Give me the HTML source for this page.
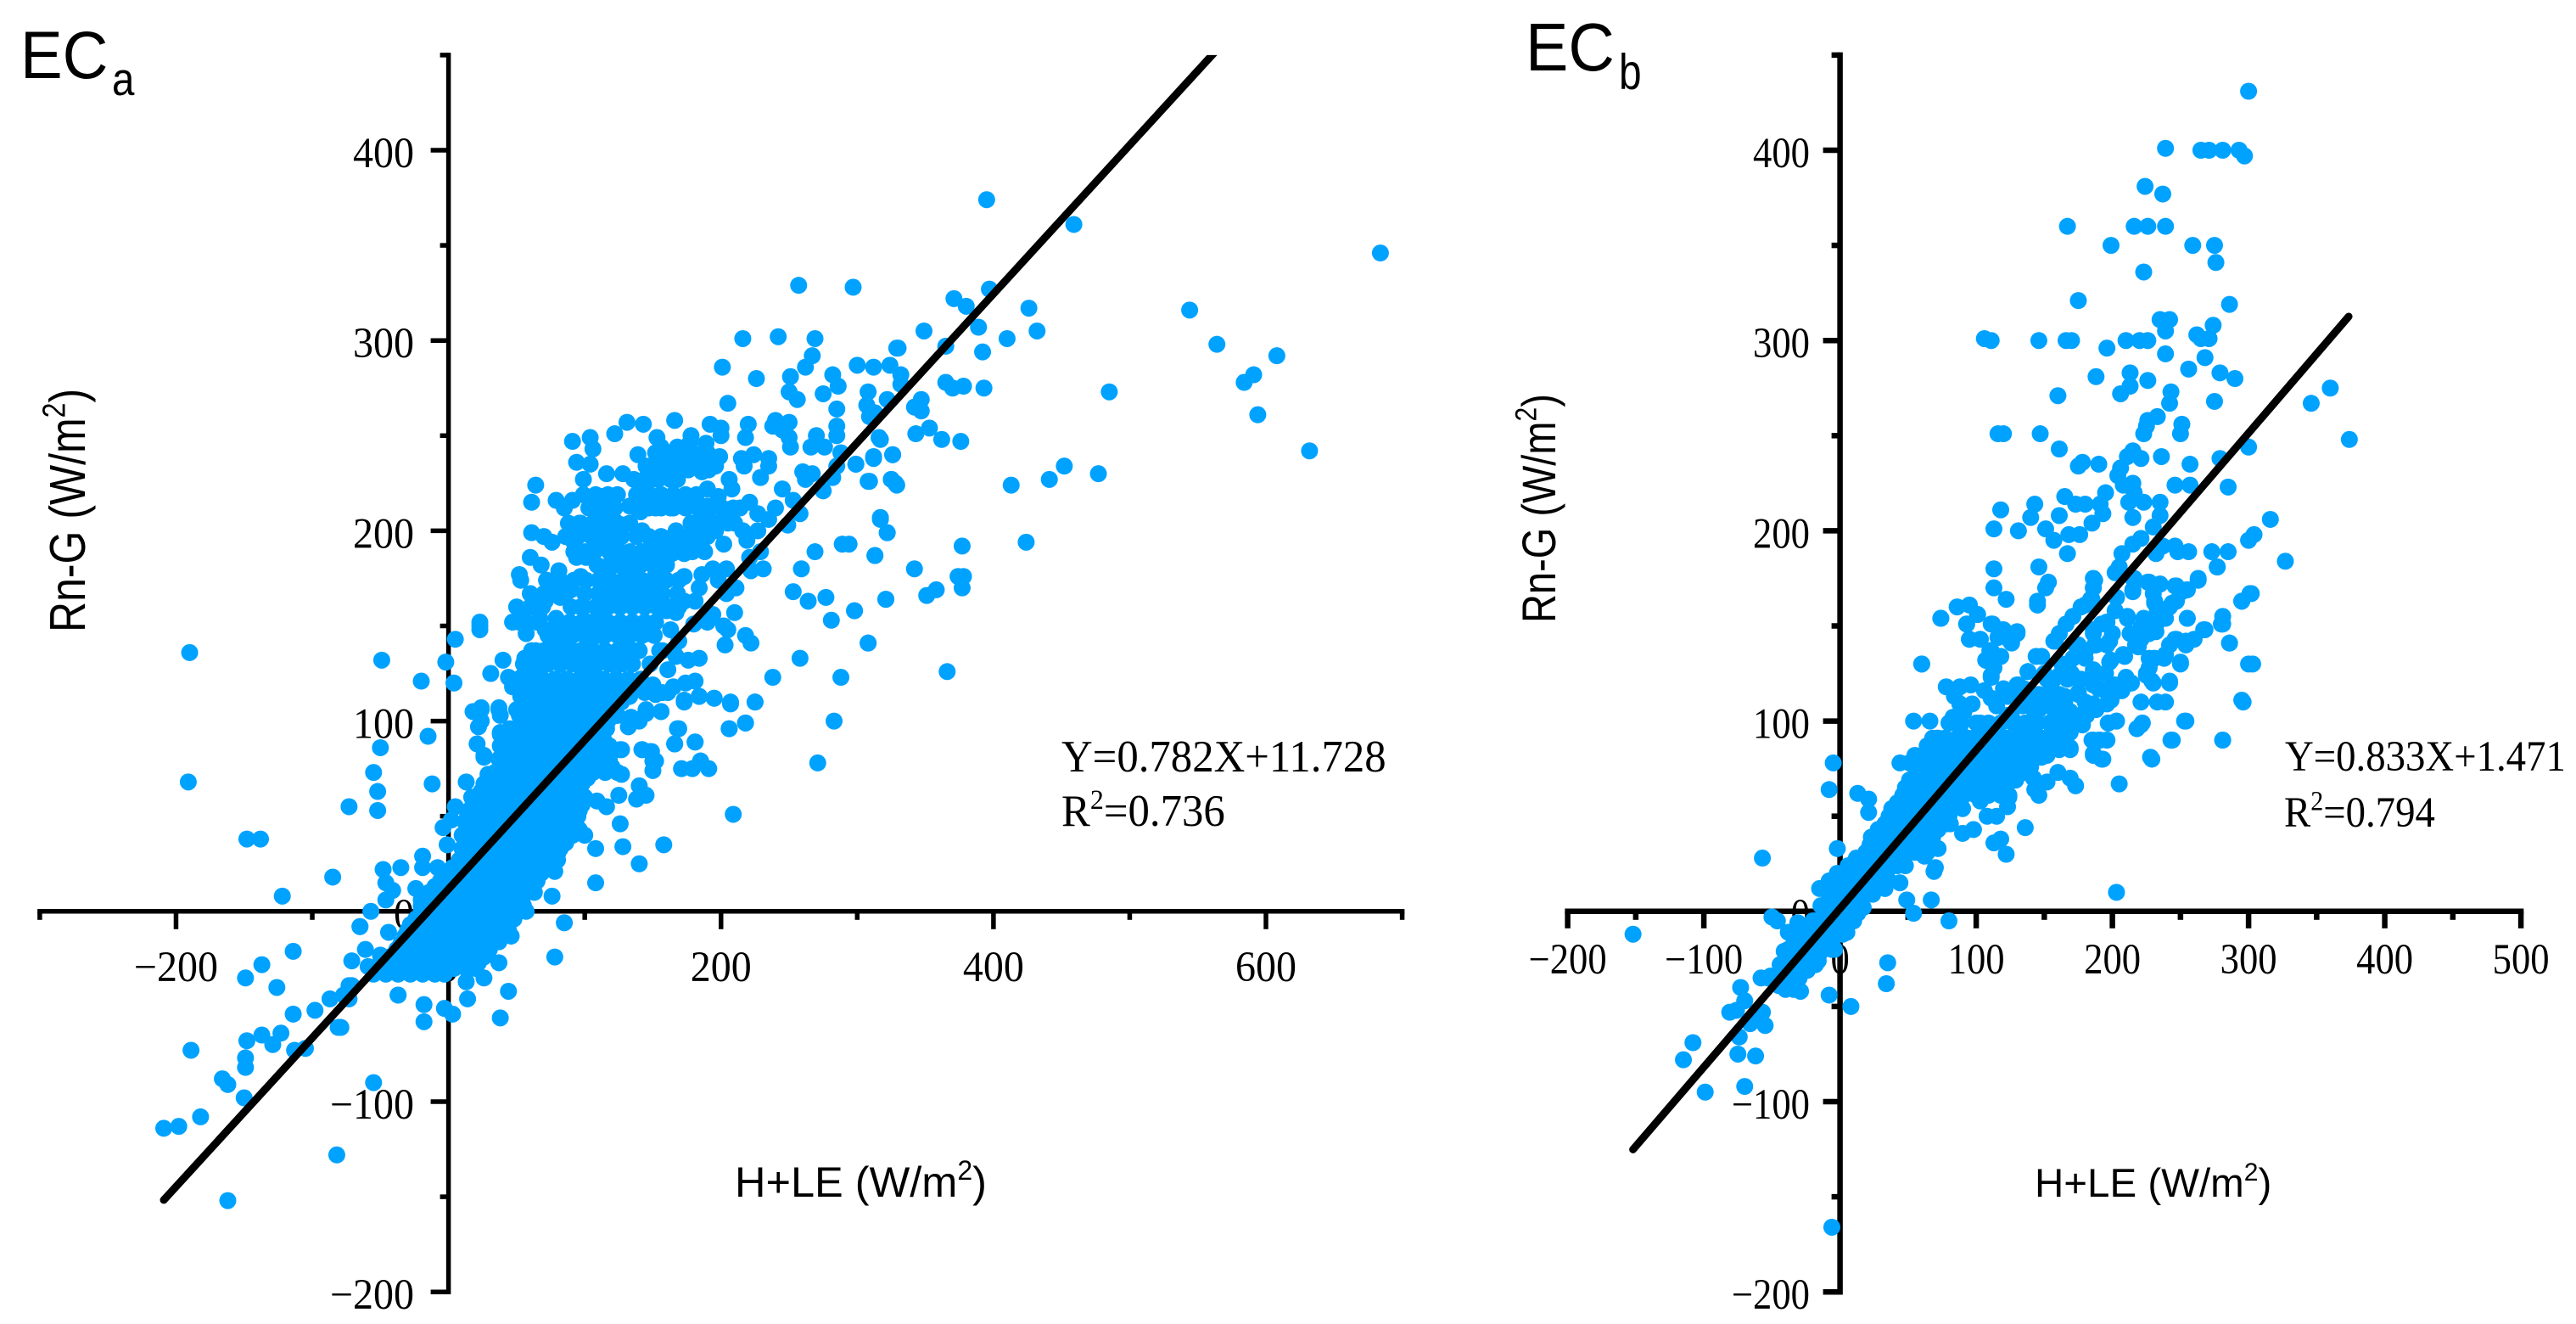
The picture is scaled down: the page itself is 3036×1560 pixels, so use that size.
<!DOCTYPE html>
<html lang="en">
<head>
<meta charset="utf-8">
<title>EC energy balance closure scatter plots</title>
<style>
html,body{margin:0;padding:0;background:#fff;width:3036px;height:1560px;overflow:hidden}
svg{display:block}
.serif{font-family:"Liberation Serif",serif;fill:#000}
.sans{font-family:"Liberation Sans",sans-serif;fill:#000}
</style>
</head>
<body>
<svg id="chart" xmlns="http://www.w3.org/2000/svg" width="3036" height="1560" viewBox="0 0 3036 1560">
<rect x="0" y="0" width="3036" height="1560" fill="#fff"/>
<g id="panel-a"></g>
<g id="panel-b"></g>
<g>
<text class="sans" transform="translate(24,92) scale(1.02,1.08)" font-size="73">EC</text>
<text class="sans" transform="translate(132,112) scale(.95,1.1)" font-size="50">a</text>
<text class="sans" transform="translate(100,745) rotate(-90) scale(1,1.18)" font-size="50">Rn-G (W/m<tspan font-size="32" dy="-20">2</tspan><tspan dy="20">)</tspan></text>
<text class="sans" transform="translate(866,1410)" font-size="50.5">H+LE (W/m<tspan font-size="32" dy="-20">2</tspan><tspan dy="20">)</tspan></text>
<text class="serif" transform="translate(1251,909) scale(1,1.04)" font-size="50.8">Y=0.782X+11.728</text>
<text class="serif" transform="translate(1251,973) scale(1,1.04)" font-size="50.8">R<tspan font-size="32" dy="-19">2</tspan><tspan dy="19">=0.736</tspan></text>
</g>
<g>
<text class="sans" transform="translate(1798,83) scale(1.02,1.08)" font-size="74">EC</text>
<text class="sans" transform="translate(1908,105) scale(.92,1.15)" font-size="52">b</text>
<text class="sans" transform="translate(1833,734) rotate(-90) scale(1,1.18)" font-size="47">Rn-G (W/m<tspan font-size="30" dy="-19">2</tspan><tspan dy="19">)</tspan></text>
<text class="sans" transform="translate(2398,1410)" font-size="47.5">H+LE (W/m<tspan font-size="30" dy="-19">2</tspan><tspan dy="19">)</tspan></text>
<text class="serif" transform="translate(2693,908) scale(1,1.08)" font-size="46.8">Y=0.833X+1.471</text>
<text class="serif" transform="translate(2692,974) scale(1,1.08)" font-size="46.8">R<tspan font-size="30" dy="-18">2</tspan><tspan dy="18">=0.794</tspan></text>
</g>
</svg>
<script>
const yMajorTicks=[-200,-100,0,100,200,300,400];
const yMinorTicks=[-150,-50,50,150,250,350,450];
const ecaXMajorTicks=[-200,0,200,400,600];
const ecaXMinorTicks=[-300,-100,100,300,500,700];
const ecbXMajorTicks=[-200,-100,0,100,200,300,400,500];
const ecbXMinorTicks=[-150,-50,50,150,250,350,450];
const ecaFit=[0.782,11.728];
const ecbFit=[0.833,1.471];
const ecaFitRange=[-209,566];
const ecbFitRange=[-152,373.5];
const ecaPoints=[
[395,374],[459,361],[397,327],[257,329],[297,328],[371,322],[380,318],[426,317],[544,316],[349,305],[389,307],[410,301],[432,305],[365,297],[329,296],[392,294],[564,298],[300,287],[312,286],[324,287],[332,282],[332,277],[608,292],[591,282],[584,278],[594,261],[632,242],[684,346],[365,278],[370,275],[378,276],[393,275],[485,273],[308,273],[322,269],[307,266],[347,269],[342,265],[347,263],[309,260],[313,262],[353,254],[343,251],[362,248],[376,247],[317,248],[326,240],[312,239],[299,235],[452,234],[477,230],[441,227],[413,224],[309,226],[325,227],[328,225],[317,207],[322,199],[294,193],[313,187],[377,192],[424,194],[342,180],[374,176],[378,176],[377,170],[358,169],[351,166],[321,164],[298,158],[308,141],[366,126],
[216,301],[242,302],[269,301],[201,286],[226,280],[205,267],[267,292],[262,286],[251,281],[286,276],[282,282],[250,273],[256,269],[275,272],[285,264],[330,296],
[131,257],[143,256],[166,258],[192,256],[200,254],[220,256],[240,258],[250,257],[238,255],[122,251],[104,249],[91,247],[106,243],[153,249],[178,250],[189,246],[200,250],[218,249],[245,253],[250,249],[251,244],[285,255],[285,250],[270,250],[266,244],[276,244],[316,249],[288,241],[299,235],[312,238],[326,240],[308,226],[325,227],[329,224],
[139,240],[156,244],[168,244],[177,246],[199,239],[215,238],[224,240],[235,238],[235,234],[229,228],[217,234],[206,227],[208,222],[94,236],[104,235],[99,227],[116,230],[128,230],[64,224],[61,215],[79,216],[85,212],[91,216],[104,215],[113,218],[119,213],[133,213],[96,204],[111,206],[129,203],[121,206],[61,199],[70,197],[76,194],[91,195],[103,198],[111,195],[121,192],[141,210],[142,224],[150,227],[163,227],[152,218],[163,212],[152,212],[145,218],[175,216],[176,232],[186,231],[191,232],[173,235],[184,237],[161,237],[148,234],[157,230],[144,227],[165,218],[190,222],[198,218],[190,213],[186,207],[202,207],[209,212],[221,215],[227,209],[240,212],[253,216],[245,222],[258,209],[249,203],[235,206],[260,231],[262,227],[267,230],[275,221],[282,228],[285,234],[216,200],[227,200],[219,195],[229,189],[221,186],[231,180],[222,179],[202,193],[196,200],[186,203],[142,200],[149,195],[159,196],[167,200],[171,195],[184,192],[173,188],[164,188],[136,186],[144,186],[152,186],[101,186],[94,186],[60,186],[68,182],[81,179],[52,177],[53,174],[72,174],[78,170],[97,176],[113,177],[122,186],[123,182],[132,174],[138,180],[152,177],[148,171],[173,176],[186,177],[194,180],[204,180],[198,174],[184,170],[211,170],[204,167],[173,163],[181,163],[210,157],[194,156],[180,151],[190,152],[202,150],[205,148],[218,145],[222,141],[203,140],[169,142],[163,148],[167,157],
[317,206],[322,199],[289,193],[269,189],[313,187],[259,180],[253,168],[264,163],[277,165],[321,164],[298,158],[281,153],[308,141],[258,133],[288,123],[238,123],[283,100],[225,110],[207,109],[218,99],[206,96],[195,112],[181,89],[168,96],[166,88],[271,78],[185,79],
[184,133],[176,132],[181,121],[174,120],[165,118],[157,115],[184,113],[173,110],[156,105],[145,104],[140,101],[126,85],[142,85],[149,84],[152,79],
[23,152],[23,148],[52,152],[57,146],[63,163],[71,163],[82,165],[90,169],[97,160],[55,157],[67,154],[79,154],[71,148],[82,148],[92,146],[103,152],[113,158],[123,161],[134,163],[144,167],[154,167],[160,158],[40,132],[31,125],[56,133],[44,123],[64,137],[76,139],[88,139],[101,139],[111,145],[123,149],[136,148],[146,146],[128,139],[136,137],[115,137],[67,128],[80,131],[94,130],[107,130],[119,130],[130,133],[55,124],[67,119],[86,122],[98,122],[111,122],[123,121],[47,118],[55,112],[67,110],[80,113],[92,115],[105,113],[117,113],[130,113],[37,106],[24,106],[24,100],[38,93],[26,82],[55,99],[67,102],[78,105],[90,103],[103,103],[113,105],[123,103],[134,102],[144,115],[150,119],[157,137],[148,130],[161,127],[167,134],
[49,120],[58,120],[67,120],[76,120],[85,120],[94,120],[103,120],[112,120],[121,120],[130,120],
[53,113],[62,113],[71,113],[80,113],[89,113],[98,113],[107,113],[116,113],[125,113],[133,113],
[50,106],[59,106],[68,106],[77,106],[86,106],[95,106],[104,106],[113,106],[122,106],
[54,100],[63,100],[72,100],[81,100],[90,100],[99,100],[108,100],[117,100],
[40,93],[49,93],[58,93],[67,93],[76,93],[85,93],[94,93],[103,93],[112,93],
[38,87],[47,87],[56,87],[65,87],[74,87],[83,87],[92,87],[101,87],[110,87],[118,87],
[37,80],[46,80],[55,80],[64,80],[73,80],[82,80],[91,80],[100,80],[109,80],[118,80],
[34,73],[43,73],[52,73],[61,73],[70,73],[79,73],[88,73],[97,73],[106,73],[115,73],[124,73],
[26,67],[35,67],[44,67],[53,67],[62,67],[71,67],[80,67],[89,67],[98,67],
[20,60],[29,60],[38,60],[47,60],[56,60],[65,60],[74,60],[83,60],[92,60],[100,60],
[15,53],[24,53],[33,53],[42,53],[51,53],[60,53],[69,53],[78,53],[87,53],[96,53],
[12,47],[21,47],[30,47],[39,47],[48,47],[57,47],[66,47],[75,47],[84,47],[93,47],
[10,40],[19,40],[28,40],[37,40],[46,40],[55,40],[64,40],[73,40],[82,40],[91,40],[100,40],
[10,33],[19,33],[28,33],[37,33],[46,33],[55,33],[64,33],[73,33],[82,33],
[8,27],[17,27],[26,27],[35,27],[44,27],[53,27],[62,27],[71,27],[80,27],
[-2,20],[7,20],[16,20],[25,20],[34,20],[43,20],[52,20],[61,20],[68,20],
[-10,13],[-1,13],[8,13],[17,13],[26,13],[35,13],[44,13],[53,13],[62,13],
[-18,7],[-9,7],[0,7],[9,7],[18,7],[27,7],[36,7],[45,7],[54,7],
[-20,0],[-11,0],[-2,0],[7,0],[16,0],[25,0],[34,0],[43,0],[52,0],[57,0],
[-28,-7],[-19,-7],[-10,-7],[-1,-7],[8,-7],[17,-7],[26,-7],[35,-7],[44,-7],
[-32,-13],[-23,-13],[-14,-13],[-5,-13],[4,-13],[13,-13],[22,-13],[31,-13],[40,-13],[46,-13],
[-38,-20],[-29,-20],[-20,-20],[-11,-20],[-2,-20],[7,-20],[16,-20],[25,-20],[30,-20],
[-50,-27],[-41,-27],[-32,-27],[-23,-27],[-14,-27],[-5,-27],[4,-27],[13,-27],[22,-27],
[-55,-33],[-46,-33],[-37,-33],[-28,-33],[-19,-33],[-10,-33],[-3,-33],
[53,116],[62,116],[71,116],[80,116],[89,116],[98,116],[107,116],[116,116],[125,116],[134,116],
[55,110],[64,110],[73,110],[82,110],[91,110],[100,110],[109,110],[118,110],[127,110],
[52,103],[61,103],[70,103],[79,103],[88,103],[97,103],[106,103],[115,103],[124,103],
[45,96],[54,96],[63,96],[72,96],[81,96],[90,96],[99,96],[108,96],[116,96],
[43,90],[52,90],[61,90],[70,90],[79,90],[88,90],[97,90],[106,90],[114,90],
[42,83],[51,83],[60,83],[69,83],[78,83],[87,83],[96,83],[105,83],[114,83],
[39,76],[48,76],[57,76],[66,76],[75,76],[84,76],[93,76],[102,76],[111,76],[120,76],
[30,70],[39,70],[48,70],[57,70],[66,70],[75,70],[84,70],[93,70],[102,70],
[24,63],[33,63],[42,63],[51,63],[60,63],[69,63],[78,63],[87,63],[96,63],
[18,56],[27,56],[36,56],[45,56],[54,56],[63,56],[72,56],[81,56],[90,56],[98,56],
[14,50],[23,50],[32,50],[41,50],[50,50],[59,50],[68,50],[77,50],[86,50],[95,50],
[15,43],[24,43],[33,43],[42,43],[51,43],[60,43],[69,43],[78,43],[87,43],[96,43],
[14,36],[23,36],[32,36],[41,36],[50,36],[59,36],[68,36],[77,36],[86,36],
[12,30],[21,30],[30,30],[39,30],[48,30],[57,30],[66,30],[75,30],[80,30],
[3,23],[12,23],[21,23],[30,23],[39,23],[48,23],[57,23],[66,23],[74,23],
[-6,16],[3,16],[12,16],[21,16],[30,16],[39,16],[48,16],[57,16],[65,16],
[-14,10],[-5,10],[4,10],[13,10],[22,10],[31,10],[40,10],[49,10],[58,10],
[-20,3],[-14,3],[-5,3],[4,3],[13,3],[22,3],[31,3],[40,3],[49,3],[55,3],
[-24,-4],[-15,-4],[-6,-4],[3,-4],[12,-4],[21,-4],[30,-4],[39,-4],[48,-4],
[-30,-10],[-18,-10],[-9,-10],[0,-10],[9,-10],[18,-10],[27,-10],[36,-10],[44,-10],
[-35,-17],[-25,-17],[-16,-17],[-7,-17],[2,-17],[11,-17],[20,-17],[29,-17],
[-44,-24],[-34,-24],[-25,-24],[-16,-24],[-7,-24],[2,-24],[11,-24],[20,-24],[26,-24],
[-50,-30],[-41,-30],[-32,-30],[-23,-30],[-14,-30],[-5,-30],[4,-30],[13,-30],[20,-30],
[51,122],[60,122],[69,122],[78,122],[87,122],[96,122],[105,122],[114,122],[123,122],[132,122],[141,122],
[55,130],[64,130],[73,130],[82,130],[91,130],[100,130],[109,130],[118,130],[127,130],[135,130],
[61,137],[70,137],[79,137],[88,137],[97,137],[106,137],[115,137],[124,137],[133,137],[140,137],[155,137],[165,137],
[73,145],[82,145],[91,145],[100,145],[109,145],[115,145],[124,145],[133,145],[142,145],[151,145],
[47,152],[56,152],[65,152],[80,152],[89,152],[98,152],[107,152],[117,152],[126,152],[135,152],[144,152],[152,152],
[50,160],[60,160],[69,160],[90,160],[99,160],[108,160],[117,160],[126,160],[135,160],[144,160],[153,160],[162,160],[169,160],
[60,167],[70,167],[80,167],[86,167],[100,167],[110,167],[117,167],[121,167],[130,167],[139,167],[148,167],[157,167],[168,167],
[72,174],[82,174],[92,174],[101,174],[110,174],[119,174],[128,174],[137,174],[142,174],[151,174],[160,174],[169,174],
[109,182],[118,182],[127,182],[132,182],[141,182],[150,182],[160,182],
[92,189],[100,189],[107,189],[118,189],[126,189],[133,189],[142,189],[151,189],[157,189],[162,189],[170,189],[179,189],[188,189],
[86,197],[95,197],[105,197],[110,197],[118,197],[127,197],[138,197],[147,197],[156,197],[165,197],[175,197],[185,197],[190,197],
[88,204],[97,204],[106,204],[115,204],[124,204],[133,204],[178,204],[187,204],[196,204],[205,204],[210,204],
[103,212],[112,212],[122,212],[138,212],[147,212],[156,212],[165,212],[174,212],[183,212],[192,212],[201,212],[214,212],
[99,219],[108,219],[117,219],[124,219],[138,219],[147,219],[156,219],[165,219],[174,219],[182,219],
[136,227],[145,227],[154,227],[163,227],[168,227],
[145,234],[155,234],[163,234],[172,234],[181,234],[190,234],[196,234],
[152,241],[161,241],[170,241],[179,241],[190,241],
[37,-27],[44,-42],[38,-56],[14,-46],[13,-37],[26,-35],[-3,-51],[3,-54],[-18,-49],[-18,-58],[-37,-44],[78,-24],[85,-6],[108,15],[140,25],[128,34],[158,35],[126,46],[209,51],[108,33],[78,21],[76,8],[63,10],[55,1],[43,-11],[37,-16],
[138,59],[145,61],[140,66],[125,61],[116,55],[109,58],[127,72],[117,76],[127,85],[142,85],[148,84],[150,79],[150,74],[171,75],[179,75],[185,79],[191,75],[181,89],[166,88],[169,96],[156,105],[145,106],[140,100],[132,97],[206,96],[218,99],[207,110],[225,110],[195,112],[184,113],[173,111],[161,115],[152,114],
[-20,121],[4,120],[-15,92],[-50,86],[-55,73],[-52,63],[-52,53],[-73,55],[-12,67],[13,68],[17,60],[5,55],[2,48],[-4,44],[-1,35],[-19,29],[-19,23],[-8,23],[-35,23],[-48,22],[-46,15],[-41,11],[-46,6],[-24,12],[-20,6],[-57,0],[-65,-8],[-44,-11],[-61,-20],[-71,-26],[-50,-23],[-59,-29],[-73,-39],[-73,-46],[-79,-61],[-55,-90],
[18,105],[24,107],[37,107],[38,103],[22,97],[38,94],[21,88],[26,81],[29,72],[30,63],[53,99],
[-49,132],[23,150],[5,143],[-2,131],[-190,136],
[-191,68],[-148,38],[-138,38],[-85,18],[-122,8],[-114,-21],[-137,-28],[-149,-35],[-126,-40],[-114,-54],[-98,-52],[-87,-46],[-77,-44],[-71,-39],[-81,-61],[-123,-64],[-148,-68],[-137,-65],[-129,-70],[-149,-77],[-149,-82],[-189,-73],[-113,-73],[-105,-72],[-166,-88],[-162,-91],[-150,-98],[-182,-108],[-198,-113],[-209,-114],[-82,-128],[-162,-152],[-65,-8],[-37,-44]
];
const ecbPoints=[
[300,431],[239,401],[265,400],[271,400],[281,400],[293,400],[297,397],[224,381],[237,377],[167,360],[216,360],[226,360],[239,360],[199,350],[259,350],[275,350],[276,341],[223,336],[175,321],[286,319],[235,311],[242,311],[239,305],[274,308],[262,303],[265,301],[271,301],[106,301],[111,300],[146,300],[166,300],[170,300],[210,300],[220,300],[226,300],[196,296],[239,293],[268,291],[256,285],[213,283],[279,283],[290,280],[188,281],[226,279],[213,276],[206,272],[160,271],[243,273],[242,267],[275,268],[346,267],[360,275],[374,248],[233,260],[226,258],[225,255],[251,256],[250,251],[223,251],[116,251],[120,251],[147,251],[300,244],[161,243],[215,242],[211,239],[221,238],[236,239],[279,238],[257,235],[190,235],[178,236],[175,234],[206,233],[204,229],[208,224],[215,225],[246,224],[257,224],[285,223],[195,220],[216,220],[165,218],[173,214],[180,214],[191,214],[212,215],[223,215],[235,215],[143,214],[118,211],[193,209],[161,208],[215,207],[235,208],[140,207],[185,204],[230,202],[316,206],[113,201],[131,200],[151,201],[168,198],[176,198],[157,195],[221,196],[304,198],[300,195],[215,193],[237,192],[246,192],[207,188],[232,188],[248,189],[256,189],[273,189],[285,189],[167,188],[327,184],[277,181],[113,180],[146,181],[205,181],[202,178],[215,175],[263,175],[186,175],[186,170],[153,173],[151,170],[113,170],[227,173],[235,172],[247,171],[255,169],[215,168],[230,167],[302,167],[295,163],[122,164],[203,165],[145,163],[145,161],[86,160],[95,161],[231,162],[247,163],[242,160],[185,164],[180,161],[101,156],[74,154],
[93,151],[112,151],[120,148],[130,147],[116,144],[95,143],[103,143],[126,141],[110,137],[118,134],[107,132],[113,128],[60,130],[111,124],[78,118],[88,118],[96,119],[106,116],[84,113],[111,112],[97,109],[88,109],[83,102],[91,105],[88,97],[103,99],[54,100],[66,100],[80,90],[71,91],[64,87],[76,83],[55,81],[86,81],[98,91],[92,85],[107,82],
[187,174],[186,170],[177,160],[184,164],[171,155],[166,151],[161,146],[157,142],[148,134],[144,134],[138,126],[131,119],[123,113],[115,108],
[175,140],[173,134],[163,130],[180,133],[186,127],[177,122],[167,122],[157,122],[175,115],[165,113],[154,113],[144,112],[134,108],[142,106],[161,106],[169,105],[181,103],[186,109],[196,109],[154,99],[177,99],[169,94],[161,91],[152,90],[142,93],[132,93],[133,89],[152,82],[144,82],[169,86],[113,93],[119,87],[96,81],[116,81],[127,81],[137,79],[186,83],[193,80],[186,90],[196,90],[190,90],[197,99],[203,100],[221,98],[228,81],[244,90],[281,90],[254,100],[296,110],[221,110],[233,110],[239,110],[242,120],[230,120],[303,130],[250,130],[286,141],[281,151],[281,155],[268,148],[255,154],[260,143],[254,140],[247,143],[242,140],[239,135],[231,133],[227,128],[225,124],[196,115],[200,119],[210,122],[213,120],[206,116],[199,132],[208,135],[217,140],[221,143],[213,146],[227,146],[232,147],[223,154],[211,155],[233,158],[239,154],[244,162],[251,168],[255,169],[263,174],[277,181],[295,163],[301,167],[246,171],[231,163],[226,173],[235,172],[215,169],[216,175],[203,165],[202,158],[192,151],[200,146],[196,152],[186,148],[187,140],[198,142],
[203,10],[205,67],[229,80],[281,90],[243,90],[253,100],[295,111],[300,130],[222,99],[218,96],[203,100],[197,99],[185,90],[191,90],[196,90],[186,82],[192,80],[169,85],[173,66],[169,70],[160,73],[152,68],[146,61],[143,64],[142,70],[136,44],[118,38],[113,36],[122,30],[115,50],[108,50],[123,55],[124,60],[103,58],[98,43],[90,41],[81,46],[67,6],[49,6],[54,-1],[80,-5],[44,15],[33,12],[70,23],[69,21],[72,33],[62,29],
[35,-27],[34,-38],[-8,-44],[8,-50],[5,-11],[-5,-19],[-2,33],[-5,78],[-8,64],[13,62],[21,59],[21,52],[60,130],[74,154],
[-8,2],[1,2],[10,2],[17,2],[-8,9],[1,9],[10,9],[18,9],[24,9],[-8,16],[1,16],[10,16],[19,16],[28,16],[36,16],
[6,24],[15,24],[24,24],[33,24],[42,24],[48,24],[19,31],[28,31],[37,31],[46,31],[55,31],[64,31],[23,39],[32,39],[41,39],[50,39],[59,39],[68,39],[33,46],[42,46],[51,46],[60,46],[69,46],[78,46],
[38,54],[47,54],[56,54],[65,54],[74,54],[83,54],[90,54],
[46,61],[55,61],[64,61],[73,61],[82,61],[91,61],[100,61],[109,61],[118,61],[124,61],
[51,69],[60,69],[69,69],[78,69],[87,69],[96,69],[105,69],[114,69],[123,69],[129,69],
[62,76],[71,76],[80,76],[89,76],[98,76],[107,76],[116,76],[125,76],[134,76],[140,76],
[66,84],[75,84],[84,84],[93,84],[102,84],[111,84],[120,84],[129,84],[138,84],[145,84],
[68,91],[77,91],[86,91],[94,91],[104,91],[113,91],[122,91],[131,91],[140,91],[149,91],[158,91],
[80,99],[89,99],[100,99],[109,99],[118,99],[127,99],[136,99],[145,99],[154,99],[163,99],[170,99],
[-4,12],[5,12],[14,12],[20,12],[-2,20],[7,20],[16,20],[25,20],[34,20],[12,28],[21,28],[30,28],[39,28],[46,28],
[22,35],[31,35],[40,35],[49,35],[58,35],[66,35],[28,43],[37,43],[46,43],[55,43],[64,43],[72,43],[36,50],[45,50],[54,50],[63,50],[72,50],[80,50],[42,57],[51,57],[60,57],[69,57],[78,57],[86,57],
[48,65],[57,65],[66,65],[75,65],[84,65],[93,65],[102,65],[111,65],[120,65],
[56,73],[65,73],[74,73],[83,73],[92,73],[101,73],[110,73],[119,73],[128,73],[136,73],
[64,80],[73,80],[82,80],[91,80],[100,80],[109,80],[118,80],[127,80],[136,80],[142,80],
[140,110],[150,110],[165,110],[180,110],[150,125],[170,125],[195,125],[120,117],[135,117],[155,117],[190,117],
[126,102],[132,93],[142,92],[155,93],[165,91],[148,81],[161,85],[138,79],[121,84],[107,82],[72,91],[65,87],[51,78],[44,78],[55,82],[80,90],
[156,107],[171,102],[178,98],[167,94],[180,105],[188,106],[199,111],[196,116],[207,116],[214,120],[210,123],[202,119],[175,114],[161,114],[146,114],[134,109],[146,106],[123,103],[127,115],[121,114],[186,125],[186,119],[175,122],[161,124],[152,122],[180,136],[171,133],[173,140],[165,128],[158,142],[148,134],[138,126],[130,119],[188,140],[198,131],[209,134],[219,139],[229,121],[242,121],[225,125],[227,133],[238,133],[250,131],[246,143],[254,142],[267,148],[280,151],[286,141],[255,154],[196,140],[211,154],[221,149],[233,152],[196,152],[186,146],
[93,151],[101,156],[111,151],[119,148],[130,146],[116,144],[125,142],[95,143],[103,143],[111,137],[118,134],[107,132],[113,128],[111,123],
[-152,-12],[-57,28],[-50,-3],[-46,-5],[-38,-11],[-31,-6],[-24,-8],[-41,-21],[-44,-28],[-34,-14],[-22,-14],[-32,-23],[-24,-20],[-15,-22],[-8,-17],[-4,-20],[-16,-26],[-24,-31],[-32,-32],[-39,-37],[-45,-39],[-40,-41],[-34,-41],[-29,-42],[-53,-35],[-58,-35],[-51,-34],[-22,-11],[-14,-13],[-8,-10],[5,-11],[-18,-5],[-12,-2],[-10,3],[-14,3],[-15,12],[-8,14],[-1,9],[3,17],[10,18],[-5,-7],[9,-5],[13,-1],[-1,-2],
[-73,-40],[-70,-47],[-57,-53],[-66,-59],[-55,-60],[-61,-56],[-81,-53],[-76,-52],[-74,-66],[-75,-75],[-62,-76],[-108,-69],[-115,-78],[-70,-92],[-99,-95],[-6,-166],
[-20,-5],[-12,-5],[-4,-5],[4,-5],[10,-5],[-30,-12],[-22,-12],[-14,-12],[-6,-12],[2,-12],[-38,-20],[-30,-20],[-22,-20],[-14,-20],[-6,-20],[-42,-28],[-34,-28],[-26,-28],[-18,-28],[-46,-35],[-38,-35],[-30,-35]
];

const panelLayouts={
  a:{id:'a',x0:528.6,kx:1.6057,tick:21,minor:10,w:5.5,font:48,sx:1,sy:1.05,xBase:1156,yEdge:488},
  b:{id:'b',x0:2168.6,kx:1.605,tick:20,minor:10,w:6.5,font:48,sx:.93,sy:1.05,xBase:1147,yEdge:2133}
};
function yScale(v){return 1073.8-2.242*v;}
function xScaleFor(p){return function(v){return p.x0+p.kx*v;};}
function svgNode(tag,attrs,parent){
  const n=document.createElementNS('http://www.w3.org/2000/svg',tag);
  for(const k in attrs){n.setAttribute(k,attrs[k]);}
  parent.appendChild(n);
  return n;
}
function fmt(v){return v<0?'\u2212'+Math.abs(v):String(v);}
function drawPanel(root,p,xMajor,xMinor,points,fit,range){
  const xs=xScaleFor(p);
  const left=xs(Math.min.apply(null,xMajor.concat(xMinor)));
  const right=xs(Math.max.apply(null,xMajor.concat(xMinor)));
  const ax={stroke:'#000','stroke-width':p.w,'stroke-linecap':'square'};
  const axisX=svgNode('line',Object.assign({x1:left,x2:right,y1:yScale(0),y2:yScale(0)},ax),root);
  
  
  const axisY=svgNode('line',Object.assign({x1:xs(0),x2:xs(0),y1:yScale(450),y2:yScale(-200)},ax),root);
  
  
  const tk={stroke:'#000','stroke-width':p.w};
  xMajor.forEach(function(v){
    const t=svgNode('line',Object.assign({x1:xs(v),x2:xs(v),y1:yScale(0),y2:yScale(0)+p.tick},tk),root);
    
    
    const l=svgNode('text',{'text-anchor':'middle',class:'serif','font-size':p.font,transform:'translate('+xs(v)+','+p.xBase+') scale('+p.sx+','+p.sy+')'},root);
    
    
    l.textContent=fmt(v);
  });
  xMinor.forEach(function(v){
    const t=svgNode('line',Object.assign({x1:xs(v),x2:xs(v),y1:yScale(0),y2:yScale(0)+p.minor},tk),root);
    
    
  });
  yMajorTicks.forEach(function(v){
    const t=svgNode('line',Object.assign({x1:xs(0)-p.tick,x2:xs(0),y1:yScale(v),y2:yScale(v)},tk),root);
    
    
    const l=svgNode('text',{'text-anchor':'end',class:'serif','font-size':p.font,transform:'translate('+p.yEdge+','+(yScale(v)+20)+') scale('+p.sx+','+p.sy+')'},root);
    
    
    l.textContent=fmt(v);
  });
  yMinorTicks.forEach(function(v){
    const t=svgNode('line',Object.assign({x1:xs(0)-p.minor,x2:xs(0),y1:yScale(v),y2:yScale(v)},tk),root);
    
    
  });
  points.forEach(function(pt){
    const c=svgNode('circle',{cx:xs(pt[0]),cy:yScale(pt[1]),r:10,fill:'#00a2ff'},root);
    
    
  });
  const clip=svgNode('clipPath',{id:'fit-clip-'+p.id},root);
  svgNode('rect',{x:0,y:yScale(450),width:3036,height:1500},clip);
  const fy=function(x){return fit[0]*x+fit[1];};
  const line=svgNode('line',{x1:xs(range[0]),y1:yScale(fy(range[0])),x2:xs(range[1]),y2:yScale(fy(range[1])),stroke:'#000','stroke-width':9,'stroke-linecap':'round','clip-path':'url(#fit-clip-'+p.id+')'},root);
  
  
}
drawPanel(document.getElementById('panel-a'),panelLayouts.a,ecaXMajorTicks,ecaXMinorTicks,ecaPoints,ecaFit,ecaFitRange);
drawPanel(document.getElementById('panel-b'),panelLayouts.b,ecbXMajorTicks,ecbXMinorTicks,ecbPoints,ecbFit,ecbFitRange);
</script>
</body>
</html>
